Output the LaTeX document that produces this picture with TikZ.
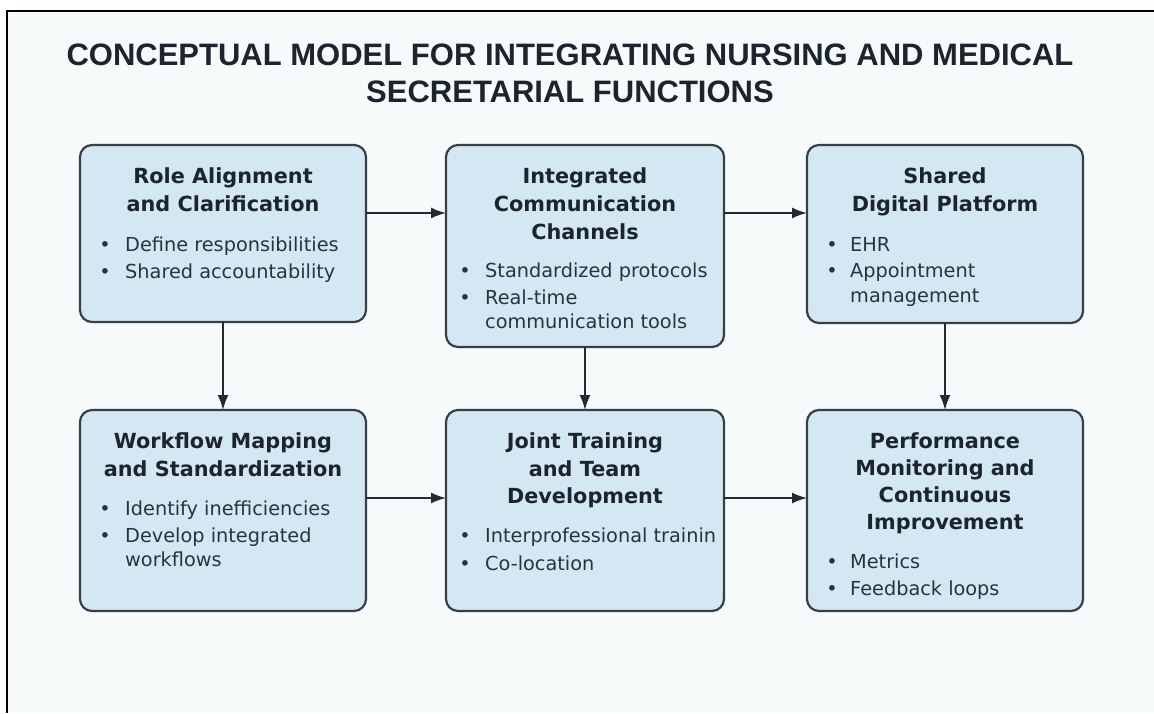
\documentclass[tikz,border=0pt]{standalone}
\usepackage{fontspec}
\setmainfont{DejaVu Sans}
\newfontfamily\headfont{Liberation Sans}
\usetikzlibrary{arrows.meta}
\definecolor{pagebg}{HTML}{F7FAFB}
\definecolor{boxfill}{HTML}{D4E8F4}
\definecolor{boxedge}{HTML}{373F47}
\definecolor{ink}{HTML}{1C252E}
\definecolor{bodyink}{HTML}{28333E}
\definecolor{arrowink}{HTML}{262A2F}
\tikzset{
  x=1pt, y=-1pt,
  card/.style={draw=boxedge, line width=2.2pt, fill=boxfill, rounded corners=12pt,
    inner sep=0pt, outer sep=0pt},
  cardtitle/.style={anchor=base, text=ink, inner sep=0pt,
    font=\fontsize{20.8}{28}\selectfont\bfseries},
  itemtext/.style={anchor=base west, text=bodyink, inner sep=0pt,
    font=\fontsize{19.3}{28}\selectfont},
  bulletdot/.style={anchor=base, text=bodyink, inner sep=0pt,
    font=\fontsize{19.3}{28}\selectfont},
  flow/.style={draw=arrowink, line width=1.8pt, -{Latex[length=15pt,width=11pt]}},
  headline/.style={anchor=base, text=ink, inner sep=0pt,
    font=\headfont\fontsize{31}{36}\selectfont\bfseries}
}
\begin{document}
\begin{tikzpicture}
\useasboundingbox (0,0) rectangle (1154,713);
\fill[white] (0,0) rectangle (1154,713);
\fill[pagebg] (7,11) rectangle (1154,713);
\draw[black, line width=2pt] (7,713) -- (7,11) -- (1154,11);

% heading
\node[headline] (h1) at (570,65) {CONCEPTUAL MODEL FOR INTEGRATING NURSING AND MEDICAL};
\node[headline] (h2) at (570,102) {SECRETARIAL FUNCTIONS};

% cards
\node[card, minimum width=286pt, minimum height=177pt] (b1) at (223,233.5) {};
\node[card, minimum width=278pt, minimum height=202pt] (b2) at (585,246) {};
\node[card, minimum width=276pt, minimum height=178pt] (b3) at (945,234) {};
\node[card, minimum width=286pt, minimum height=201pt] (b4) at (223,510.5) {};
\node[card, minimum width=278pt, minimum height=201pt] (b5) at (585,510.5) {};
\node[card, minimum width=276pt, minimum height=201pt] (b6) at (945,510.5) {};

% card 1
\node[cardtitle] (t1a) at (223,183) {Role Alignment};
\node[cardtitle] (t1b) at (223,211) {and Clarification};
\node[bulletdot] (d1a) at (105,251) {•};
\node[itemtext] (i1a) at (125,251) {Define responsibilities};
\node[bulletdot] (d1b) at (105,278) {•};
\node[itemtext] (i1b) at (125,278) {Shared accountability};

% card 2
\node[cardtitle] (t2a) at (585,183) {Integrated};
\node[cardtitle] (t2b) at (585,211) {Communication};
\node[cardtitle] (t2c) at (585,239) {Channels};
\node[bulletdot] (d2a) at (465,277) {•};
\node[itemtext] (i2a) at (485,277) {Standardized protocols};
\node[bulletdot] (d2b) at (465,304) {•};
\node[itemtext] (i2b) at (485,304) {Real-time};
\node[itemtext] (i2c) at (485,328) {communication tools};

% card 3
\node[cardtitle] (t3a) at (945,183) {Shared};
\node[cardtitle] (t3b) at (945,211) {Digital Platform};
\node[bulletdot] (d3a) at (832,251) {•};
\node[itemtext] (i3a) at (850,251) {EHR};
\node[bulletdot] (d3b) at (832,277) {•};
\node[itemtext] (i3b) at (850,277) {Appointment};
\node[itemtext] (i3c) at (850,302) {management};

% card 4
\node[cardtitle] (t4a) at (223,448) {Workflow Mapping};
\node[cardtitle] (t4b) at (223,476) {and Standardization};
\node[bulletdot] (d4a) at (105,515) {•};
\node[itemtext] (i4a) at (125,515) {Identify inefficiencies};
\node[bulletdot] (d4b) at (105,542) {•};
\node[itemtext] (i4b) at (125,542) {Develop integrated};
\node[itemtext] (i4c) at (125,566) {workflows};

% card 5
\node[cardtitle] (t5a) at (585,448) {Joint Training};
\node[cardtitle] (t5b) at (585,476) {and Team};
\node[cardtitle] (t5c) at (585,503) {Development};
\node[bulletdot] (d5a) at (465,542) {•};
\node[itemtext] (i5a) at (485,542) {Interprofessional trainin};
\node[bulletdot] (d5b) at (465,570) {•};
\node[itemtext] (i5b) at (485,570) {Co-location};

% card 6
\node[cardtitle] (t6a) at (945,448) {Performance};
\node[cardtitle] (t6b) at (945,475) {Monitoring and};
\node[cardtitle] (t6c) at (945,502) {Continuous};
\node[cardtitle] (t6d) at (945,529) {Improvement};
\node[bulletdot] (d6a) at (832,568) {•};
\node[itemtext] (i6a) at (850,568) {Metrics};
\node[bulletdot] (d6b) at (832,595) {•};
\node[itemtext] (i6b) at (850,595) {Feedback loops};

% connectors
\coordinate (rowA) at (0,213);
\coordinate (rowB) at (0,498);
\draw[flow] (b1.east |- rowA) -- (b2.west |- rowA);
\draw[flow] (b2.east |- rowA) -- (b3.west |- rowA);
\draw[flow] (b4.east |- rowB) -- (b5.west |- rowB);
\draw[flow] (b5.east |- rowB) -- (b6.west |- rowB);
\draw[flow] (b1.south) -- (b4.north);
\draw[flow] (b2.south) -- (b5.north);
\draw[flow] (b3.south) -- (b6.north);
\end{tikzpicture}
\end{document}
